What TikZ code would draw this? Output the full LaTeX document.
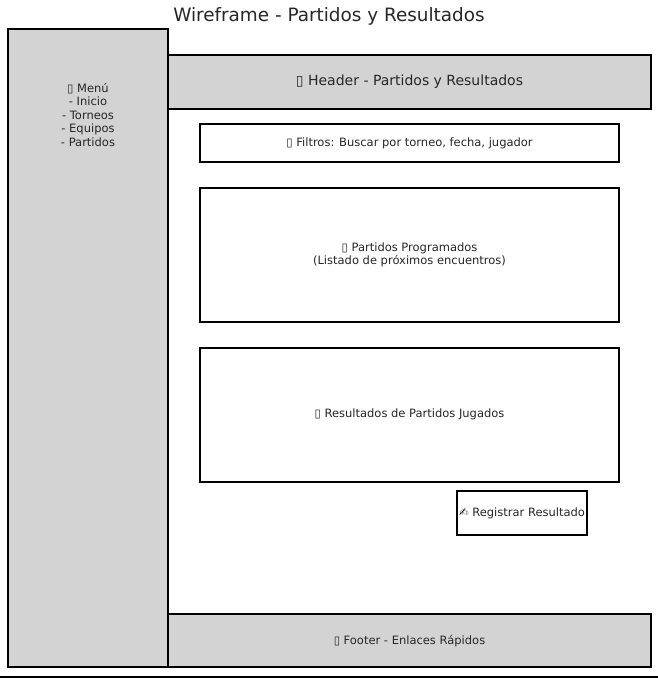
\documentclass[tikz,border=0pt]{standalone}
\usepackage{fontspec}
\setmainfont{DejaVu Sans}
\definecolor{panel}{HTML}{D3D3D3}
\definecolor{ink}{HTML}{262626}
\begin{document}
\begin{tikzpicture}[x=1pt,y=-1pt,
  panelbox/.style={draw=black,line width=1.6pt,fill=panel},
  whitebox/.style={draw=black,line width=1.8pt,fill=white},
  lbl/.style={text=ink,font=\fontsize{11.5}{13.5}\selectfont,align=center,inner sep=0pt},
  biglbl/.style={text=ink,font=\fontsize{14}{16}\selectfont,align=center,inner sep=0pt}]
\useasboundingbox (0,0) rectangle (658,678);
% sidebar
\draw[panelbox] (8,29) rectangle (168,667);
% header
\draw[panelbox] (168,55) rectangle (651,109);
% footer
\draw[panelbox] (168,614) rectangle (651,667);
% content boxes
\draw[whitebox] (200,124) rectangle (619,162);
\draw[whitebox] (200,188) rectangle (619,322);
\draw[whitebox] (200,348) rectangle (619,482);
\draw[whitebox] (457,491) rectangle (587,535);
% bottom rule
\draw[black,line width=2pt] (0,677) -- (658,677);
% texts
\node[text=ink,font=\fontsize{18.4}{21}\selectfont,inner sep=0pt] (title) at (329,16) {Wireframe - Partidos y Resultados};
\node[lbl] (menu) at (88,114.5) {▯ Menú\\- Inicio\\- Torneos\\- Equipos\\- Partidos};
\node[biglbl] (header) at (409.5,82) {▯ Header - Partidos y Resultados};
\node[lbl] (filtros) at (409.5,143) {▯ Filtros: Buscar por torneo, fecha, jugador};
\node[lbl] (prog) at (409.5,255) {▯ Partidos Programados\\(Listado de próximos encuentros)};
\node[lbl] (res) at (409.5,414) {▯ Resultados de Partidos Jugados};
\node[lbl] (reg) at (522,513) {✍ Registrar Resultado};
\node[lbl] (footer) at (409.5,641) {▯ Footer - Enlaces Rápidos};
\end{tikzpicture}
\end{document}
